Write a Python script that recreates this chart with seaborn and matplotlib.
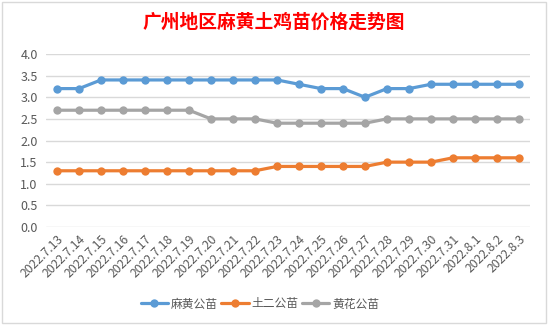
import matplotlib
matplotlib.use("Agg")
import matplotlib.pyplot as plt
import seaborn as sns
import pandas as pd
from matplotlib.patches import Rectangle

dates = ["2022.7.13", "2022.7.14", "2022.7.15", "2022.7.16", "2022.7.17", "2022.7.18",
         "2022.7.19", "2022.7.20", "2022.7.21", "2022.7.22", "2022.7.23", "2022.7.24",
         "2022.7.25", "2022.7.26", "2022.7.27", "2022.7.28", "2022.7.29", "2022.7.30",
         "2022.7.31", "2022.8.1", "2022.8.2", "2022.8.3"]
mahuang = [3.2, 3.2, 3.4, 3.4, 3.4, 3.4, 3.4, 3.4, 3.4, 3.4, 3.4, 3.3,
           3.2, 3.2, 3.0, 3.2, 3.2, 3.3, 3.3, 3.3, 3.3, 3.3]
tuer = [1.3, 1.3, 1.3, 1.3, 1.3, 1.3, 1.3, 1.3, 1.3, 1.3, 1.4, 1.4,
        1.4, 1.4, 1.4, 1.5, 1.5, 1.5, 1.6, 1.6, 1.6, 1.6]
huanghua = [2.7, 2.7, 2.7, 2.7, 2.7, 2.7, 2.7, 2.5, 2.5, 2.5, 2.4, 2.4,
            2.4, 2.4, 2.4, 2.5, 2.5, 2.5, 2.5, 2.5, 2.5, 2.5]
series_names = ["麻黄公苗", "土二公苗", "黄花公苗"]
colors = ["#5B9BD5", "#ED7D31", "#A5A5A5"]
yticks = [0.0, 0.5, 1.0, 1.5, 2.0, 2.5, 3.0, 3.5, 4.0]
title = "广州地区麻黄土鸡苗价格走势图"

sns.set_theme(style="white")
plt.rcParams['font.family'] = ['Noto Sans CJK SC', 'DejaVu Sans']

rows = []
for name, vals in zip(series_names, [mahuang, tuer, huanghua]):
    for i, v in enumerate(vals):
        rows.append({"idx": i, "price": v, "series": name})
df = pd.DataFrame(rows)

fig = plt.figure(figsize=(5.48, 3.25), dpi=100)
ax = fig.add_axes([46 / 548, 1 - 227 / 325, (530 - 46) / 548, (227 - 54) / 325])

sns.lineplot(data=df, x="idx", y="price", hue="series", hue_order=series_names,
             palette=colors, marker="o", markersize=6, markeredgewidth=0,
             linewidth=2.3, ax=ax, legend=True)

ax.set_xlim(-0.5, len(dates) - 0.5)
ax.set_ylim(0, 4.0)
ax.set_yticks(yticks)
ax.set_yticklabels([f"{t:.1f}" for t in yticks], fontsize=9, color="#595959")
ax.set_xticks(range(len(dates)))
ax.set_xticklabels(dates, rotation=45, ha="right", rotation_mode="anchor",
                   fontsize=8.8, color="#595959")
ax.tick_params(axis="both", length=0, pad=4)
ax.tick_params(axis="y", pad=6)
ax.yaxis.grid(True, color="#D9D9D9", linewidth=1)
ax.set_axisbelow(True)
for s in ax.spines.values():
    s.set_visible(False)
ax.set_xlabel("")
ax.set_ylabel("")

handles, labels = ax.get_legend_handles_labels()
ax.legend(handles, labels, loc="center", bbox_to_anchor=(260 / 548, 1 - 304 / 325),
          bbox_transform=fig.transFigure, ncol=3, frameon=False, fontsize=8.5,
          handlelength=2.3, handletextpad=0.25, columnspacing=0.3,
          labelcolor="#595959")

fig.text(274 / 548, 1 - 22 / 325, title, ha="center", va="center", fontsize=13.5,
         fontweight="bold", color="#FF0000")

fig.patches.append(Rectangle((2 / 548, 2 / 325), 544 / 548, 321 / 325,
                             transform=fig.transFigure, fill=False,
                             edgecolor="#D9D9D9", linewidth=1))

fig.savefig("out.png", dpi=100)
